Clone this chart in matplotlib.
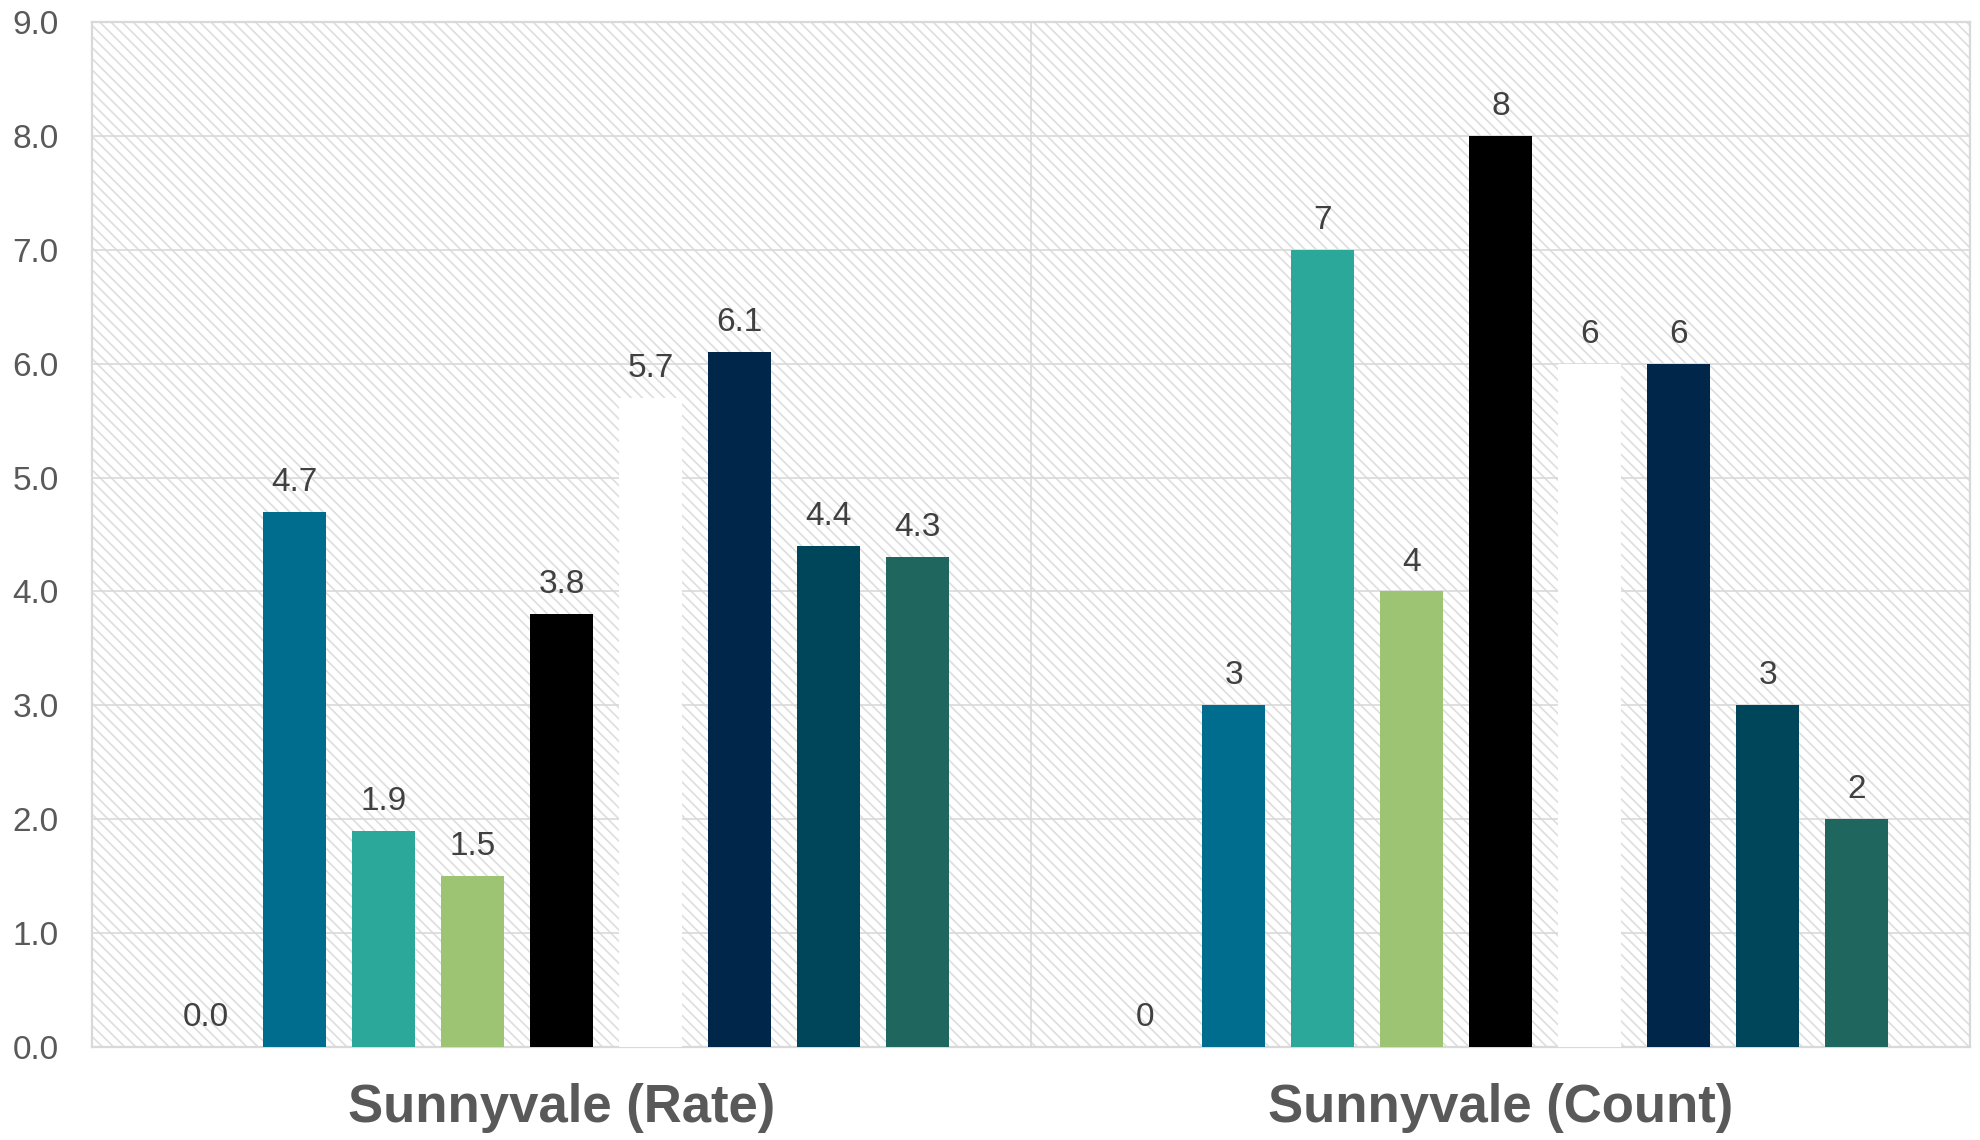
import matplotlib
matplotlib.use("Agg")
import matplotlib.pyplot as plt
from matplotlib.patches import Rectangle
import numpy as np

# data
groups = ["Sunnyvale (Rate)", "Sunnyvale (Count)"]
rate_values = [0.0, 4.7, 1.9, 1.5, 3.8, 5.7, 6.1, 4.4, 4.3]
count_values = [0, 3, 7, 4, 8, 6, 6, 3, 2]
bar_colors = ["#2E75B6", "#006D8F", "#2CA89A", "#9DC472", "#000000",
              "#FFFFFF", "#00264A", "#00465A", "#1E665E"]
y_ticks = np.arange(0, 10, 1)

plt.rcParams['font.family'] = ['Liberation Sans', 'DejaVu Sans']
plt.rcParams['hatch.linewidth'] = 1.2
plt.rcParams['hatch.color'] = '#dedede'

grid_col = '#d9d9d9'

fig = plt.figure(figsize=(19.8, 11.4), dpi=100)
ax = fig.add_axes([0.0465, 0.0816, 0.9485, 0.8991])

n = len(rate_values)
group_w = 10.55
centers = [group_w / 2, group_w * 1.5]
bar_w = 0.71

# hatched background of the plot area
ax.add_patch(Rectangle((0, 0), 1, 1, transform=ax.transAxes, facecolor='white',
                       edgecolor='#dedede', hatch='\\\\\\', linewidth=0, zorder=0))

for g, (vals, fmt) in enumerate([(rate_values, "{:.1f}"), (count_values, "{:d}")]):
    x = centers[g] + np.arange(n) - (n - 1) / 2
    ax.bar(x, vals, width=bar_w, color=bar_colors, linewidth=0, zorder=3)
    for xi, v in zip(x, vals):
        ax.annotate(fmt.format(v), (xi, v), xytext=(0, 10), textcoords='offset points',
                    ha='center', va='bottom', fontsize=24, color='#404040', zorder=4)
    ax.text(centers[g], -0.54, groups[g], ha='center', va='center', fontsize=38,
            fontweight='bold', color='#595959', transform=ax.transData)

ax.axvline(group_w, color=grid_col, lw=1.2, zorder=1)

ax.set_xlim(0, group_w * 2)
ax.set_ylim(0, 9)
ax.set_yticks(y_ticks)
ax.set_yticklabels(["{:.1f}".format(t) for t in y_ticks])
ax.set_xticks([])
ax.tick_params(axis='y', length=0, pad=24, labelsize=24, labelcolor='#595959')
ax.yaxis.grid(True, color=grid_col, lw=1.2, zorder=1)
ax.set_axisbelow(True)
for s in ax.spines.values():
    s.set_color(grid_col)
    s.set_linewidth(1.6)

fig.savefig("out.png", dpi=100, facecolor='white')
